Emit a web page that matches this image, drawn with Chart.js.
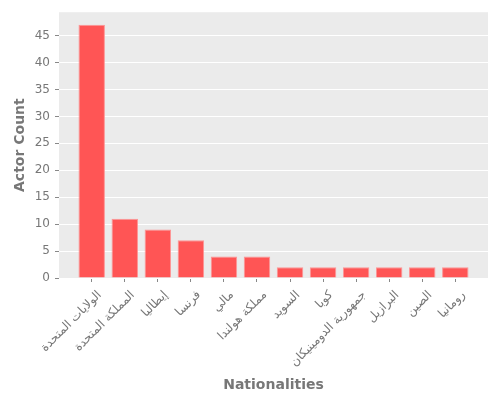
<!DOCTYPE html>
<html>
<head>
<meta charset="utf-8">
<script src="https://cdn.jsdelivr.net/npm/chart.js@4"></script>
<style>
  body { margin: 0; background: #fff; }
  #wrap { width: 500px; height: 400px; }
</style>
</head>
<body>
<div id="wrap"><canvas id="myChart"></canvas></div>
<script>
const nationalities = ['الولايات المتحدة', 'المملكة المتحدة', 'إيطاليا', 'فرنسا', 'مالي', 'مملكة هولندا',
  'السويد', 'كوبا', 'جمهورية الدومينيكان', 'البرازيل', 'الصين', 'رومانيا'];
const actorCounts = [47, 11, 9, 7, 4, 4, 2, 2, 2, 2, 2, 2];
const yTicks = [0, 5, 10, 15, 20, 25, 30, 35, 40, 45];

const panelBg = {
  id: 'panelBg',
  beforeDraw(chart) {
    const { ctx, chartArea: a } = chart;
    ctx.save();
    ctx.fillStyle = '#EBEBEB';
    ctx.fillRect(a.left, a.top, a.right - a.left, a.bottom - a.top);
    ctx.restore();
  }
};

const ctx = document.getElementById('myChart');

const chart = new Chart(ctx, {
  type: 'bar',
  data: {
    datasets: [{
      label: 'Actor Count',
      data: actorCounts.map((v, i) => ({ x: i, y: v })),
      backgroundColor: '#FF5555',
      borderColor: 'rgba(255,140,140,0.9)',
      borderWidth: 1,
      barPercentage: 0.8,
      categoryPercentage: 1
    }]
  },
  options: {
    responsive: true,
    maintainAspectRatio: false,
    animation: false,
    layout: { padding: { top: 10, right: 12, left: 0, bottom: 0 } },
    plugins: { legend: { display: false }, tooltip: { enabled: false } },
    scales: {
      x: {
        type: 'linear',
        offset: false,
        min: -0.99,
        max: 11.99,
        afterBuildTicks: (scale) => { scale.ticks = nationalities.map((_, i) => ({ value: i })); },
        afterFit: (scale) => { scale.height = 122; },
        border: { display: false },
        grid: { offset: false, drawOnChartArea: false, tickLength: 4, tickColor: '#888' },
        ticks: {
          minRotation: 45, maxRotation: 45, padding: 6, labelOffset: 8,
          color: '#777',
          font: { family: 'DejaVu Sans', size: 12 },
          callback: (v) => nationalities[v]
        },
        title: {
          display: true, text: 'Nationalities', color: '#777',
          font: { family: 'DejaVu Sans', size: 14, weight: 'bold' },
          padding: { top: 6, bottom: 6 }
        }
      },
      y: {
        min: 0,
        max: 49.35,
        afterBuildTicks: (scale) => { scale.ticks = yTicks.map(v => ({ value: v })); },
        afterFit: (scale) => { scale.width = 59; },
        border: { display: false },
        grid: { color: '#fff', lineWidth: 1, tickLength: 4, tickColor: '#888' },
        ticks: {
          padding: 5, color: '#777',
          font: { family: 'DejaVu Sans', size: 12 }
        },
        title: {
          display: true, text: 'Actor Count', color: '#777',
          font: { family: 'DejaVu Sans', size: 14, weight: 'bold' },
          padding: { top: 12, bottom: 4 }
        }
      }
    }
  },
  plugins: [panelBg]
});
</script>
</body>
</html>
